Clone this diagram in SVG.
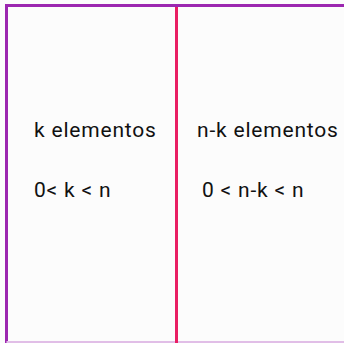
<svg xmlns="http://www.w3.org/2000/svg" width="344" height="343" viewBox="0 0 344 343">
<style>
.t{font-family:Roboto,"Liberation Sans",sans-serif;font-size:21px;letter-spacing:0.8px;fill:#111}
</style>
<rect width="344" height="343" fill="#fcfcfc"/>
<g id="frame">
<line x1="6.5" y1="5.5" x2="344" y2="5.5" stroke="#9c27b0" stroke-width="3"/>
<line x1="6.5" y1="4" x2="6.5" y2="343" stroke="#9c27b0" stroke-width="3"/>
<line x1="6.5" y1="342" x2="344" y2="342" stroke="#e1bee7" stroke-width="2"/>
</g>
<g id="divider">
<line x1="176.5" y1="7" x2="176.5" y2="343" stroke="#e91e63" stroke-width="3"/>
</g>
<g id="left">
<text class="t" x="34" y="137">k elementos</text>
<text class="t" x="34" y="197">0&lt; k &lt; n</text>
</g>
<g id="right">
<text class="t" x="197" y="137">n-k elementos</text>
<text class="t" x="202" y="197">0 &lt; n-k &lt; n</text>
</g>
</svg>
